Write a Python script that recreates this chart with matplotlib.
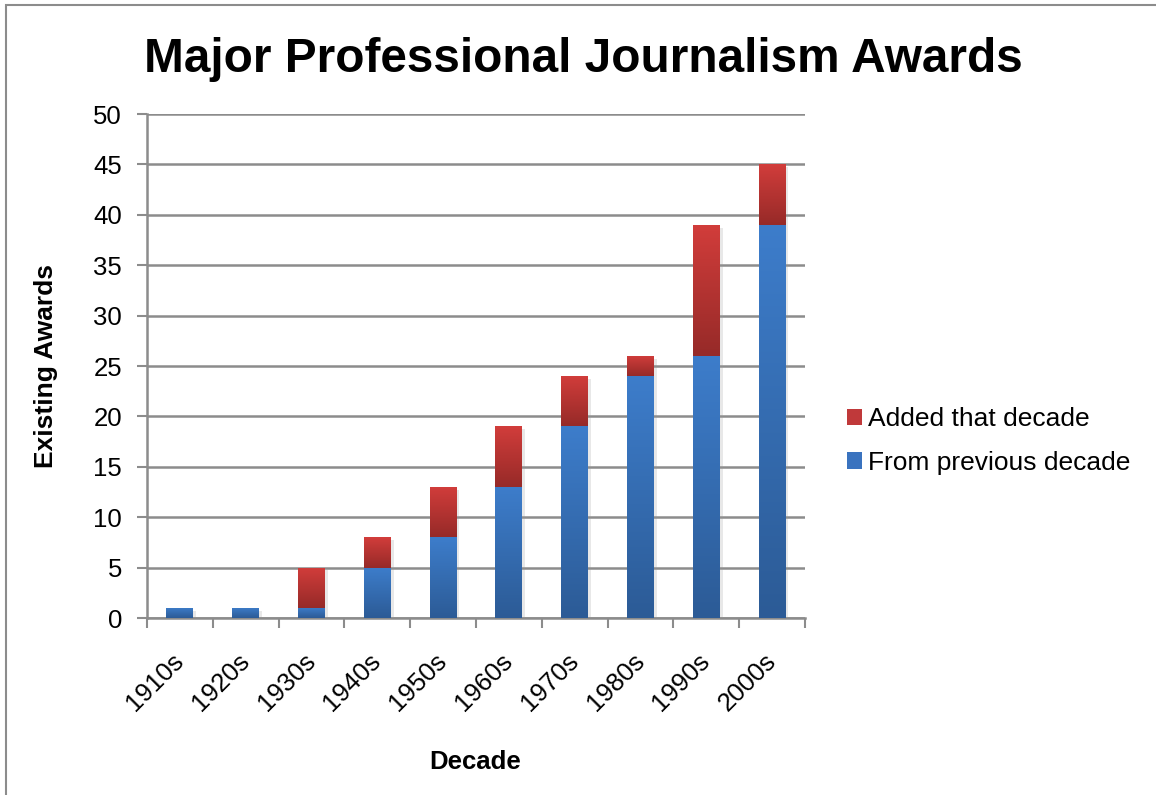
import matplotlib.pyplot as plt
import numpy as np
from matplotlib.colors import LinearSegmentedColormap
from matplotlib.patches import Patch, Rectangle
from matplotlib.patheffects import SimplePatchShadow, Normal

plt.rcParams['font.family'] = ['Liberation Sans', 'DejaVu Sans']

decades = ['1910s', '1920s', '1930s', '1940s', '1950s', '1960s', '1970s', '1980s', '1990s', '2000s']
from_previous = [1, 1, 1, 5, 8, 13, 19, 24, 26, 39]
added = [0, 0, 4, 3, 5, 6, 5, 2, 13, 6]

blue_cmap = LinearSegmentedColormap.from_list('blue', ['#2C5B96', '#3D7DCB'])
red_cmap = LinearSegmentedColormap.from_list('red', ['#962A28', '#D23D3B'])
grad = np.linspace(0, 1, 256).reshape(-1, 1)

fig = plt.figure(figsize=[11.56, 7.95], dpi=100)
ax = fig.add_axes([147 / 1156, 1 - 618 / 795, (805 - 147) / 1156, (618 - 114) / 795])

# outer chart border
fig.patches.append(Rectangle((6 / 1156, -0.05), 1.2, 0.05 + 1 - 5 / 795, transform=fig.transFigure,
                             fill=False, edgecolor='#8c8c8c', lw=1.5))

x = np.arange(len(decades))
width = 0.41
shadow = [SimplePatchShadow(offset=(2, -2), shadow_rgbFace='#999999', alpha=0.22), Normal()]
b1 = ax.bar(x, from_previous, width, color='#3A73BF', zorder=3, path_effects=shadow)
b2 = ax.bar(x, added, width, bottom=from_previous, color='#C0393A', zorder=3, path_effects=shadow)

# vertical gradient fill on every bar segment
for bars, cmap in ((b1, blue_cmap), (b2, red_cmap)):
    for bar in bars:
        if bar.get_height() <= 0:
            continue
        x0, y0 = bar.get_x(), bar.get_y()
        img = ax.imshow(grad, cmap=cmap, origin='lower', aspect='auto', zorder=4,
                        extent=(x0, x0 + bar.get_width(), y0, y0 + bar.get_height()))
        img.set_clip_path(bar)

ax.set_xlim(-0.5, len(decades) - 0.5)
ax.set_ylim(0, 50)
ax.set_yticks(range(0, 51, 5))
ax.set_xticks(x)
ax.set_xticklabels(decades, rotation=45, ha='right', va='center', rotation_mode='anchor', fontsize=18.5)
ax.set_xticks(np.arange(-0.5, len(decades), 1), minor=True)
ax.tick_params(axis='x', which='major', length=0, pad=28)
ax.tick_params(axis='x', which='minor', length=7, width=1.5, color='#8c8c8c')
ax.tick_params(axis='y', length=7, width=1.5, color='#8c8c8c', labelsize=18.5, pad=11)

ax.grid(axis='y', color='#8c8c8c', lw=1.8, zorder=0)
ax.set_axisbelow(True)
for side in ('top', 'right'):
    ax.spines[side].set_visible(False)
for side in ('left', 'bottom'):
    ax.spines[side].set_color('#8c8c8c')
    ax.spines[side].set_linewidth(1.8)

ax.set_ylabel('Existing Awards', fontsize=19, fontweight='bold')
ax.yaxis.set_label_coords(-(147 - 58) / 658, 0.5)
ax.set_xlabel('Decade', fontsize=18.5, fontweight='bold')
ax.xaxis.set_label_coords((475 - 147) / 658, -(750 - 618) / 504)
fig.text(583 / 1156, 1 - 59 / 795, 'Major Professional Journalism Awards', fontsize=34.4, fontweight='bold',
         ha='center', va='center')

handles = [Patch(facecolor='#C0393A', label='Added that decade'),
           Patch(facecolor='#3A73BF', label='From previous decade')]
fig.legend(handles=handles, loc='center left', bbox_to_anchor=(847 / 1156, 1 - 441 / 795), frameon=False,
           fontsize=19, handlelength=0.58, handleheight=0.58, handletextpad=0.2, labelspacing=0.75,
           borderpad=0, borderaxespad=0)

plt.savefig('out.png', dpi=100)
plt.close()
